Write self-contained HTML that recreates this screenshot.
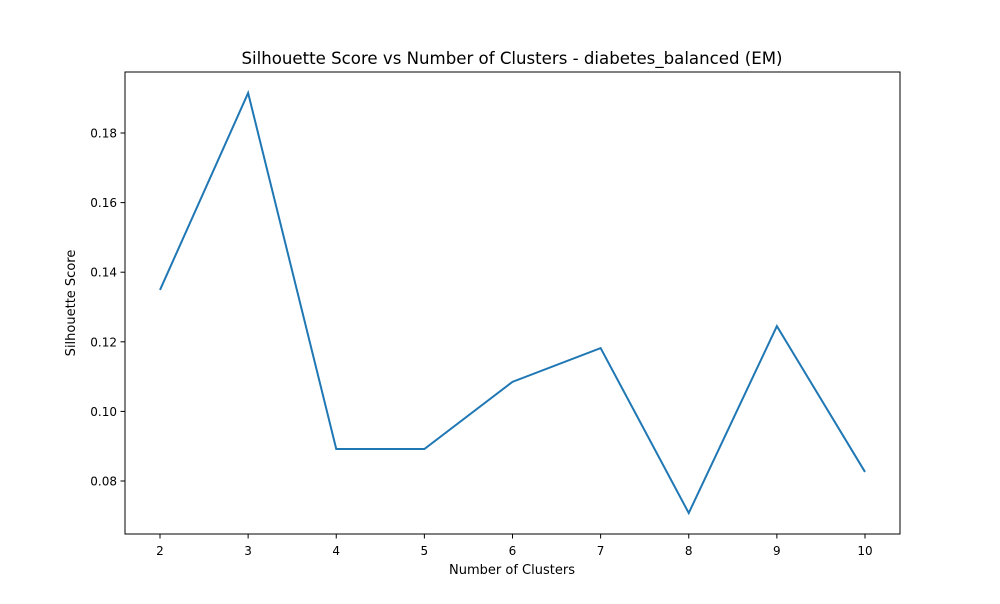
<!DOCTYPE html>
<html><head><meta charset="utf-8"><style>
body{margin:0;background:#fff;font-family:"DejaVu Sans","Liberation Sans",sans-serif}
text{font-family:"DejaVu Sans","Liberation Sans",sans-serif}
</style></head><body>
<svg id="chart" width="1000" height="600">
<rect width="1000" height="600" fill="#fff"/>
<text x="512" y="64" text-anchor="middle" font-size="16.6">Silhouette Score vs Number of Clusters - diabetes_balanced (EM)</text>
<g id="xt"></g>
<g id="yt"></g>
<text x="512" y="574" text-anchor="middle" font-size="13">Number of Clusters</text>
<text transform="translate(75,303) rotate(-90)" text-anchor="middle" font-size="13">Silhouette Score</text>
<path id="line" fill="none" stroke="#1f77b4" stroke-width="2"/>
<rect x="125" y="72" width="775" height="462" fill="none" stroke="#000" stroke-width="1"/>
</svg>
<script>
const clusters=[2,3,4,5,6,7,8,9,10];
const scores=[0.1349,0.1915,0.0892,0.0892,0.1085,0.1182,0.0708,0.1245,0.0826];
const yTicks=[0.08,0.10,0.12,0.14,0.16,0.18];
const yTickLabels=["0.08","0.10","0.12","0.14","0.16","0.18"];
const NS="http://www.w3.org/2000/svg";
const x=v=>160+(v-2)*88.125;
const y=v=>481-(v-0.08)*3480;
function mk(t,a,p){const e=document.createElementNS(NS,t);for(const k in a)e.setAttribute(k,a[k]);p.appendChild(e);return e;}
const xt=document.getElementById('xt'),yt=document.getElementById('yt');
clusters.forEach(c=>{
 const l=mk('line',{x1:x(c),x2:x(c),y1:534,y2:538.5,stroke:'#000'},xt);
 
 
 const t=mk('text',{x:x(c),y:555,'text-anchor':'middle','font-size':12},xt);t.textContent=c;
 
 
});
yTicks.forEach((v,i)=>{
 const l=mk('line',{x1:120.5,x2:125,y1:y(v),y2:y(v),stroke:'#000'},yt);
 
 
 const t=mk('text',{x:117,y:y(v)+4.5,'text-anchor':'end','font-size':12},yt);t.textContent=yTickLabels[i];
 
 
});
document.getElementById('line').setAttribute('d',clusters.map((c,i)=>(i?'L':'M')+x(c)+','+y(scores[i])).join(''));
</script>
</body></html>
